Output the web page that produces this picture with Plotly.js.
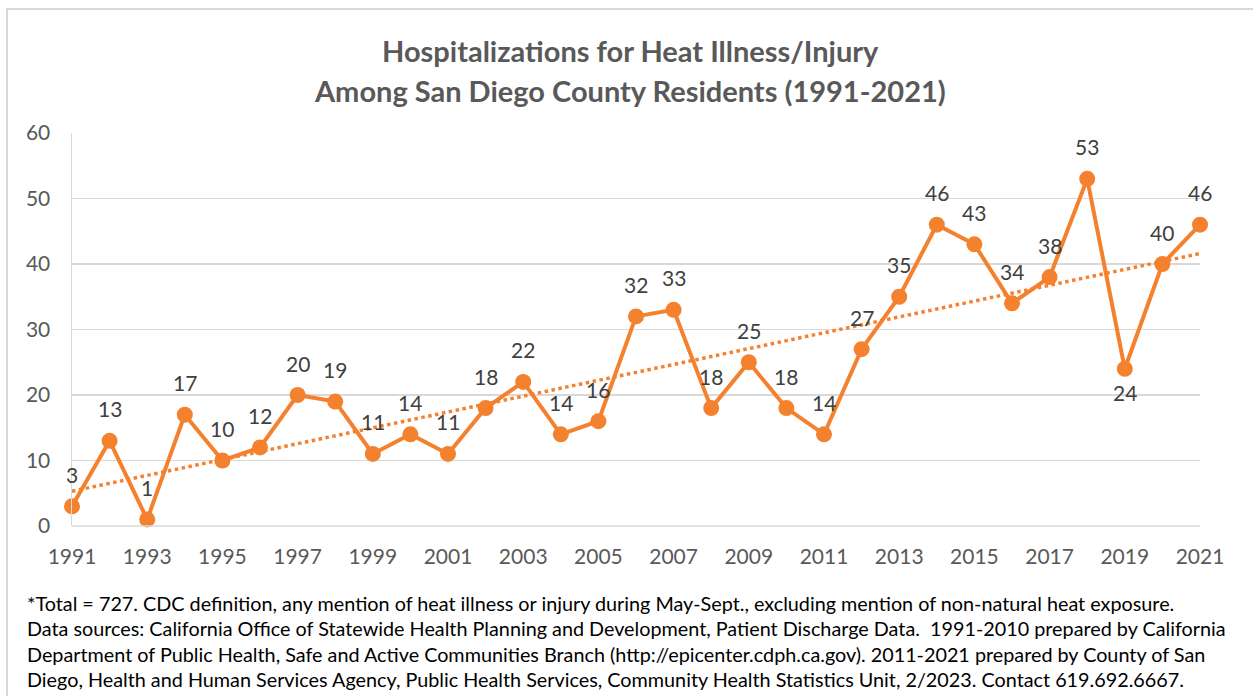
<!DOCTYPE html>
<html>
<head>
<meta charset="utf-8">
<script src="https://cdn.plot.ly/plotly-3.0.1.min.js"></script>
<style>html,body{margin:0;padding:0;background:#fff;}#chart{width:1253px;height:696px;}</style>
</head>
<body>
<div id="chart"></div>
<script>
const years = [1991,1992,1993,1994,1995,1996,1997,1998,1999,2000,2001,2002,2003,2004,2005,2006,2007,2008,2009,2010,2011,2012,2013,2014,2015,2016,2017,2018,2019,2020,2021];
const hospitalizations = [3,13,1,17,10,12,20,19,11,14,11,18,22,14,16,32,33,18,25,18,14,27,35,46,43,34,38,53,24,40,46];
const labelBelow = [2019];
const xTicks = [1991,1993,1995,1997,1999,2001,2003,2005,2007,2009,2011,2013,2015,2017,2019,2021];
const yTicks = [0,10,20,30,40,50,60];
const titleLines = ['Hospitalizations for Heat Illness/Injury', 'Among San Diego County Residents (1991-2021)'];
const footnoteLines = [
  '*Total = 727. CDC definition, any mention of heat illness or injury during May-Sept., excluding mention of non-natural heat exposure.',
  'Data sources: California Office of Statewide Health Planning and Development, Patient Discharge Data.  1991-2010 prepared by California',
  'Department of Public Health, Safe and Active Communities Branch (http://epicenter.cdph.ca.gov). 2011-2021 prepared by County of San',
  'Diego, Health and Human Services Agency, Public Health Services, Community Health Statistics Unit, 2/2023. Contact 619.692.6667.'
];

// least-squares linear trend line
const n = years.length;
const mx = years.reduce((a,b)=>a+b,0)/n;
const my = hospitalizations.reduce((a,b)=>a+b,0)/n;
let sxy=0, sxx=0;
for (let i=0;i<n;i++){ sxy += (years[i]-mx)*(hospitalizations[i]-my); sxx += (years[i]-mx)**2; }
const slope = sxy/sxx, intercept = my - slope*mx;
const trendX = [years[0], years[n-1]];
const trendY = trendX.map(x => intercept + slope*x);

const orange = '#F4812D';
const FONT = 'Lato, "Open Sans", sans-serif';
const PW = 1128, PH = 393, PL = 72, PB = 526;
const py = p => (PB - p) / PH;   // pixel y -> paper y

const traces = [
  {
    x: trendX, y: trendY, mode: 'lines', type: 'scatter',
    line: {color: orange, width: 3.5, dash: 'dot'},
    hoverinfo: 'skip', showlegend: false
  },
  {
    x: years, y: hospitalizations, mode: 'lines+markers', type: 'scatter',
    line: {color: orange, width: 4},
    marker: {color: orange, size: 16},
    cliponaxis: false,
    showlegend: false
  }
];

const annotations = [];
years.forEach((yr, i) => {
  const below = labelBelow.includes(yr);
  annotations.push({
    x: yr, y: hospitalizations[i], xref: 'x', yref: 'y',
    text: String(hospitalizations[i]), showarrow: false,
    xanchor: 'center', yanchor: 'middle', yshift: below ? -24 : 32,
    font: {family: FONT, size: 21, color: '#404040'}
  });
});
titleLines.forEach((t, i) => {
  annotations.push({
    text: '<b>' + t + '</b>', xref: 'paper', yref: 'paper', x: (630 - PL)/PW, y: py(50 + i*40),
    xanchor: 'center', yanchor: 'middle', showarrow: false,
    font: {family: FONT, size: 29, color: '#595959'}
  });
});
footnoteLines.forEach((t, i) => {
  annotations.push({
    text: t, xref: 'paper', yref: 'paper', xanchor: 'left', yanchor: 'middle',
    x: (25 - PL)/PW, y: py(603 + i*25.3), showarrow: false,
    font: {family: FONT, size: 19.8, color: '#000000'}
  });
});

const layout = {
  width: 1253, height: 696,
  margin: {l: 72, r: 53, t: 133, b: 170},
  paper_bgcolor: '#ffffff', plot_bgcolor: '#ffffff',
  xaxis: {
    range: [1991, 2021], tickvals: xTicks, ticktext: xTicks.map(String),
    showgrid: false, zeroline: false, showline: false, ticks: '',
    tickfont: {family: FONT, size: 21, color: '#595959'}, ticklabelstandoff: 16
  },
  yaxis: {
    range: [0, 60], tickvals: yTicks, showgrid: true, gridcolor: '#D9D9D9', gridwidth: 1.5,
    zeroline: false, showline: true, linecolor: '#D9D9D9', linewidth: 1.5, ticks: '',
    tickfont: {family: FONT, size: 21, color: '#595959'}, ticklabelstandoff: 16
  },
  shapes: [
    {type: 'line', xref: 'paper', yref: 'paper', x0: 0, x1: 1, y0: 0, y1: 0, line: {color: '#D9D9D9', width: 1.5}},
    {type: 'rect', xref: 'paper', yref: 'paper', x0: (7 - PL)/PW, x1: 1.2, y0: -1, y1: py(9), line: {color: '#D9D9D9', width: 2}, layer: 'below'}
  ],
  annotations: annotations,
  showlegend: false
};

Plotly.newPlot('chart', traces, layout, {displayModeBar: false, staticPlot: true});
</script>
</body>
</html>
